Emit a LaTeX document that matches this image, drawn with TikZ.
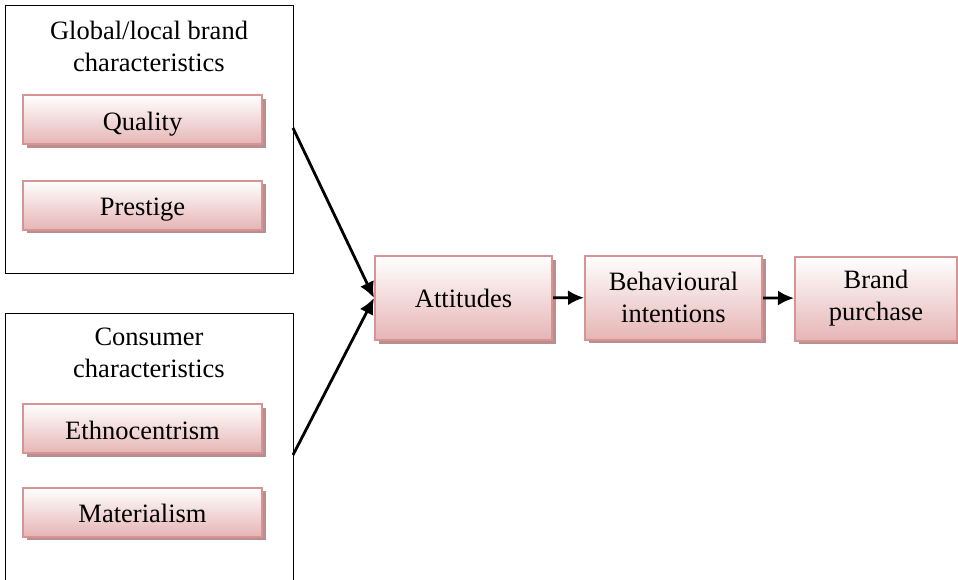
\documentclass[tikz,border=0pt]{standalone}
\usepackage{fontspec}
\setmainfont{Liberation Serif}
\usetikzlibrary{arrows.meta,positioning,calc,shadows}
\definecolor{rosefill}{HTML}{E6B5B5}
\definecolor{roseline}{HTML}{D89494}
\definecolor{roseshade}{HTML}{B88E8E}
\tikzset{factor/.style={draw=roseline,line width=2pt,top color=white,bottom color=rosefill,
    minimum width=239pt,minimum height=49pt,inner sep=0pt,align=center,
    drop shadow={shadow xshift=3.5pt,shadow yshift=-3.5pt,fill=roseshade,opacity=1}},
  item/.style={factor,text height=21pt,text depth=0pt},
  stage/.style={factor,minimum width=177pt,minimum height=84pt},
  group/.style={draw,line width=1.3pt,minimum width=288pt,inner sep=0pt,anchor=north west},
  flow/.style={-{Latex[length=16pt,width=15pt]},line width=2.8pt}}

\begin{document}
\begin{tikzpicture}[x=1pt,y=-1pt,font=\fontsize{26.5}{32}\selectfont]
\useasboundingbox (0,0) rectangle (958,579);
\node[group,minimum height=268pt] (g1) at (5,5) {};
\node[group,minimum height=300pt] (g2) at (5,313) {};
\node[align=center] (t1) at (149,46) {Global/local brand\\characteristics};
\node[align=center] (t2) at (149,353) {Consumer\\characteristics};
\node[item] (quality) at (142.5,119.5) {Quality};
\node[item] (prestige) at (142.5,205) {Prestige};
\node[item] (ethno) at (142.5,428.5) {Ethnocentrism};
\node[item] (mater) at (142.5,512) {Materialism};
\node[stage] (att) at (463.5,298) {Attitudes};
\node[stage] (beh) at (673.5,297.5) {Behavioural\\intentions};
\node[stage,minimum width=162pt] (buy) at (876,298.5) {Brand\\purchase};
\coordinate (s1) at (293,128);
\coordinate (s2) at (293,455);
\draw[flow] (s1) -- (att.west);
\draw[flow] (s2) -- (att.west);
\draw[flow] (att) -- (beh);
\draw[flow] (beh) -- (buy);
\end{tikzpicture}
\end{document}
